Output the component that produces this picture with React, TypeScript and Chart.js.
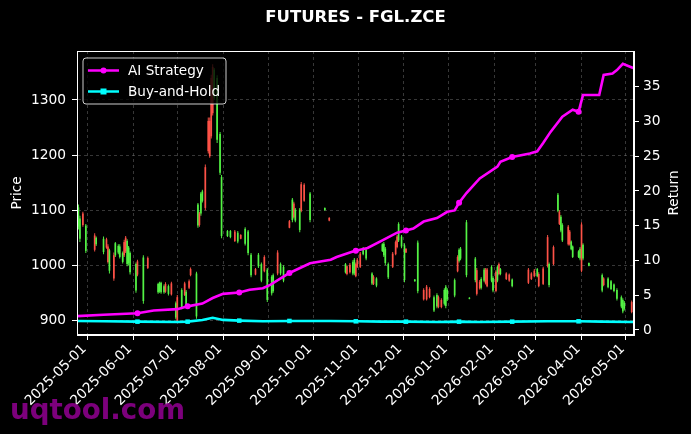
import React, { useEffect, useRef } from 'react';
import { Chart, registerables } from 'chart.js';

Chart.register(...registerables);

// ---------------- data ----------------
const candleDates = [
  '2025-04-25','2025-04-26','2025-04-28','2025-04-30',
  '2025-05-06','2025-05-07','2025-05-12','2025-05-14','2025-05-15','2025-05-16','2025-05-19','2025-05-20','2025-05-22','2025-05-23','2025-05-25','2025-05-26','2025-05-27','2025-05-28','2025-05-29','2025-05-30',
  '2025-06-03','2025-06-04','2025-06-08','2025-06-11','2025-06-18','2025-06-19','2025-06-20','2025-06-22','2025-06-23','2025-06-25','2025-06-27','2025-06-30',
  '2025-07-01','2025-07-04','2025-07-06','2025-07-07','2025-07-09','2025-07-10','2025-07-14','2025-07-15','2025-07-16','2025-07-17','2025-07-18','2025-07-20','2025-07-22','2025-07-23','2025-07-24','2025-07-25','2025-07-26','2025-07-28','2025-07-30','2025-07-31',
  '2025-08-04','2025-08-06','2025-08-09','2025-08-11','2025-08-13','2025-08-16','2025-08-18','2025-08-20','2025-08-23','2025-08-25','2025-08-27','2025-08-29','2025-08-31',
  '2025-09-03','2025-09-04','2025-09-07','2025-09-09','2025-09-11','2025-09-15','2025-09-17','2025-09-18','2025-09-19','2025-09-22','2025-09-23','2025-09-25','2025-09-29',
  '2025-10-09','2025-10-12','2025-10-23','2025-10-24','2025-10-26','2025-10-28','2025-10-29','2025-10-30','2025-10-31',
  '2025-11-02','2025-11-04','2025-11-06','2025-11-10','2025-11-11','2025-11-13','2025-11-17','2025-11-18','2025-11-19','2025-11-21','2025-11-24','2025-11-26','2025-11-27','2025-11-28','2025-11-30',
  '2025-12-02','2025-12-03','2025-12-09','2025-12-11','2025-12-15','2025-12-17','2025-12-19','2025-12-22','2025-12-24','2025-12-25','2025-12-27','2025-12-29','2025-12-30','2025-12-31',
  '2026-01-05','2026-01-07','2026-01-08','2026-01-09','2026-01-13','2026-01-15','2026-01-19','2026-01-20','2026-01-22','2026-01-23','2026-01-25','2026-01-26','2026-01-27','2026-01-30','2026-01-31',
  '2026-02-02','2026-02-03','2026-02-04','2026-02-05','2026-02-09','2026-02-11','2026-02-13','2026-02-24','2026-02-26','2026-02-28',
  '2026-03-02','2026-03-03','2026-03-06','2026-03-09','2026-03-10','2026-03-13','2026-03-16','2026-03-17','2026-03-18','2026-03-19','2026-03-23','2026-03-24','2026-03-25','2026-03-26','2026-03-30','2026-03-31',
  '2026-04-01','2026-04-02','2026-04-06','2026-04-15','2026-04-16','2026-04-19','2026-04-21','2026-04-23','2026-04-25','2026-04-28','2026-04-29','2026-04-30',
  '2026-05-05',
];

const opens = [
  1105,1085,1073,1072,
  1028,1050,1048,1032,1006,1027,976,1040,1035,1034,1022,1018,1025,1044,1032,1022,
  1002,983,1014,995,966,967,968,962,952,962,947,931,
  899,955,946,952,959,982,985,1110,1073,1130,1134,1104,1207,1198,1234,1276,1355,1340,1238,1160,
  1062,1062,1044,1059,1048,1066,1061,1019,983,1019,1002,989,992,
  979,982,985,1002,997,1068,1119,1087,1101,1101,1099,1117,1130,
  1104,1081,1002,984,987,1006,1010,980,997,
  997,1031,1028,985,966,976,1038,1039,1030,1002,997,1020,1033,1075,1052,
  1036,1023,974,1041,938,938,942,942,946,924,924,955,961,955,
  973,989,1028,1030,1078,941,1012,948,958,975,992,967,962,997,977,
  953,997,984,993,975,972,974,968,975,980,
  993,962,966,999,1002,1002,1128,1075,1088,1073,1038,1038,1043,1034,1025,1030,
  990,1037,1004,982,964,976,971,965,955,942,937,932,
  915,
];

const highs = [
  1110,1090,1097,1075,
  1058,1052,1052,1050,1038,1030,1023,1042,1038,1038,1025,1046,1053,1047,1035,1025,
  1005,1010,1018,1016,968,970,970,965,969,965,970,934,
  946,958,970,955,974,996,988,1113,1097,1133,1137,1183,1268,1268,1346,1365,1358,1345,1242,1164,
  1064,1064,1064,1062,1056,1069,1064,1022,995,1022,1005,1018,995,
  982,985,1027,1005,1000,1082,1122,1115,1104,1104,1151,1149,1133,
  1105,1087,1004,1000,1004,1009,1013,1005,1013,
  1024,1033,1031,987,982,978,1040,1042,1033,1005,1024,1045,1055,1078,1055,
  1040,1031,975,1045,958,964,960,945,949,945,940,958,964,958,
  976,1018,1031,1033,1082,942,1015,995,973,978,995,995,995,1000,980,
  991,1000,1005,995,987,985,976,995,987,993,
  995,987,997,1055,1005,1036,1131,1100,1091,1076,1073,1064,1045,1036,1027,1033,
  1078,1040,1005,985,978,978,973,967,958,945,940,935,
  936,
];

const lows = [
  1065,1042,1070,1022,
  1025,1035,1020,1030,1003,985,972,1015,1020,1012,1003,1015,1022,998,1000,983,
  950,980,930,993,948,950,948,948,950,945,945,902,
  896,920,944,925,957,980,903,1068,1070,1090,1114,1100,1203,1195,1230,1272,1300,1222,1164,1049,
  1051,1049,1042,1040,1047,1036,1018,978,982,995,969,987,933,
  945,950,982,982,969,1067,1078,1085,1078,1060,1096,1115,1078,
  1099,1080,985,982,985,982,982,978,995,
  995,1018,1009,964,964,960,1024,1015,1000,975,995,1018,1031,1042,1031,
  969,1022,970,949,936,936,940,915,922,922,922,927,922,935,
  942,987,1005,1009,978,938,969,945,956,956,969,965,960,969,951,
  951,969,982,982,973,970,960,966,973,978,
  978,960,964,996,960,1000,1096,1073,1060,1042,1036,1036,1027,1013,1013,1009,
  987,1009,998,951,962,958,955,951,936,922,913,918,
  913,
];

const closes = [
  1070,1048,1094,1026,
  1054,1038,1024,1047,1034,990,1018,1018,1023,1015,1006,1042,1050,1002,1004,987,
  954,1007,935,1013,951,953,951,951,966,948,967,905,
  942,924,967,928,971,993,907,1072,1094,1094,1117,1178,1262,1262,1340,1360,1304,1228,1168,1053,
  1053,1051,1061,1043,1055,1039,1022,982,993,998,972,1015,937,
  949,953,1023,985,972,1080,1082,1112,1081,1064,1147,1146,1082,
  1100,1086,987,998,1001,985,985,1002,1010,
  1021,1020,1012,967,979,963,1026,1018,1004,978,1021,1042,1052,1045,1034,
  973,1030,971,953,955,961,957,918,925,942,937,930,926,938,
  945,1015,1008,1012,982,939,973,991,970,959,972,992,992,972,954,
  988,972,1002,984,985,983,962,992,985,990,
  980,984,994,1051,964,1033,1099,1097,1063,1045,1070,1061,1029,1015,1015,1012,
  1074,1012,999,954,976,960,957,953,939,925,916,921,
  933,
];

const aiDates = [
  '2025-04-24','2025-05-12','2025-06-04','2025-06-15','2025-07-01','2025-07-08','2025-07-18','2025-07-25',
  '2025-08-01','2025-08-12','2025-08-19','2025-08-28','2025-09-02','2025-09-15','2025-09-29','2025-10-13',
  '2025-10-17','2025-10-28','2025-10-30','2025-11-07','2025-11-17','2025-11-27','2025-12-03','2025-12-08',
  '2025-12-15','2025-12-24','2025-12-31','2026-01-05','2026-01-08','2026-01-13','2026-01-22','2026-02-03',
  '2026-02-05','2026-02-13','2026-02-25','2026-03-02','2026-03-06','2026-03-11','2026-03-19','2026-03-26',
  '2026-03-30','2026-04-02','2026-04-13','2026-04-16','2026-04-22','2026-04-25','2026-04-29','2026-05-06',
];
const aiValues = [
  2.0,2.2,2.4,2.8,3.0,3.4,3.8,4.6,
  5.2,5.4,5.8,6.0,6.5,8.2,9.6,10.1,
  10.5,11.3,11.4,11.8,12.9,14.0,14.3,14.6,
  15.6,16.1,17.0,17.2,18.3,19.7,21.8,23.5,
  24.2,24.9,25.4,25.7,26.9,28.5,30.7,31.7,
  31.4,33.8,33.8,36.7,36.9,37.4,38.3,37.7,
];

const bhDates = [
  '2025-04-24','2025-05-12','2025-06-04','2025-07-01','2025-07-08','2025-07-18','2025-07-25','2025-08-01',
  '2025-08-12','2025-08-28','2025-09-15','2025-10-13','2025-10-30','2025-11-17','2025-12-03','2025-12-24',
  '2026-01-08','2026-01-22','2026-02-13','2026-03-09','2026-03-30','2026-04-15','2026-05-06',
];
const bhValues = [
  1.3,1.25,1.2,1.15,1.2,1.45,1.75,1.45,
  1.35,1.25,1.3,1.3,1.25,1.2,1.2,1.15,
  1.2,1.15,1.2,1.25,1.25,1.2,1.15,
];

const markerDates = [
  '2025-06-04','2025-07-08','2025-08-12','2025-09-15','2025-10-30','2025-12-03','2026-01-08','2026-02-13','2026-03-30',
];

const monthTicks = [
  '2025-05-01','2025-06-01','2025-07-01','2025-08-01','2025-09-01','2025-10-01','2025-11-01',
  '2025-12-01','2026-01-01','2026-02-01','2026-03-01','2026-04-01','2026-05-01',
];
const priceTicks = [900, 1000, 1100, 1200, 1300];
const returnTicks = [0, 5, 10, 15, 20, 25, 30, 35];

const TITLE = 'FUTURES - FGL.ZCE';
const WATERMARK = 'uqtool.com';

// ---------------- helpers ----------------
const BASE = Date.UTC(2025, 4, 1);
const toDay = (s: string) => {
  const [y, m, d] = s.split('-').map(Number);
  return (Date.UTC(y, m - 1, d) - BASE) / 86400000;
};

const UP = 'rgba(255,82,72,0.95)';
const DOWN = 'rgba(84,245,70,0.95)';
const candleColors = opens.map((o, i) => (closes[i] >= o ? UP : DOWN));

const FONT = '"DejaVu Sans", sans-serif';
const TICK_SIZE = 13.8;

const decorPlugin = {
  id: 'decor',
  beforeDraw(chart: any) {
    const { ctx, width, height } = chart;
    ctx.save();
    ctx.fillStyle = '#000';
    ctx.fillRect(0, 0, width, height);
    ctx.restore();
  },
  afterDraw(chart: any) {
    const { ctx, chartArea: a } = chart;
    ctx.save();
    // frame (all four spines)
    ctx.strokeStyle = '#ffffff';
    ctx.lineWidth = 1;
    ctx.strokeRect(Math.round(a.left) + 0.5, Math.round(a.top) + 0.5, Math.round(a.right - a.left) - 1, Math.round(a.bottom - a.top) - 1);

    // axis titles
    ctx.fillStyle = '#ffffff';
    ctx.font = `13.6px ${FONT}`;
    ctx.textAlign = 'center';
    ctx.textBaseline = 'middle';
    const cy = (a.top + a.bottom) / 2;
    ctx.save();
    ctx.translate(17, cy);
    ctx.rotate(-Math.PI / 2);
    ctx.fillText('Price', 0, 0);
    ctx.restore();
    ctx.save();
    ctx.translate(a.right + 40, cy);
    ctx.rotate(-Math.PI / 2);
    ctx.fillText('Return', 0, 0);
    ctx.restore();

    // legend
    const lx = a.left + 6, ly = a.top + 7, lw = 143, lh = 46;
    ctx.beginPath();
    const r = 3;
    ctx.moveTo(lx + r, ly);
    ctx.lineTo(lx + lw - r, ly);
    ctx.quadraticCurveTo(lx + lw, ly, lx + lw, ly + r);
    ctx.lineTo(lx + lw, ly + lh - r);
    ctx.quadraticCurveTo(lx + lw, ly + lh, lx + lw - r, ly + lh);
    ctx.lineTo(lx + r, ly + lh);
    ctx.quadraticCurveTo(lx, ly + lh, lx, ly + lh - r);
    ctx.lineTo(lx, ly + r);
    ctx.quadraticCurveTo(lx, ly, lx + r, ly);
    ctx.closePath();
    ctx.fillStyle = 'rgba(0,0,0,0.8)';
    ctx.fill();
    ctx.strokeStyle = 'rgba(255,255,255,0.8)';
    ctx.lineWidth = 1;
    ctx.stroke();

    const entries = chart.data.datasets.filter((d: any) => d.type === 'line');
    entries.forEach((ds: any, i: number) => {
      const y = ly + 12.5 + i * 21;
      ctx.strokeStyle = ds.borderColor;
      ctx.lineWidth = 2.5;
      ctx.beginPath();
      ctx.moveTo(lx + 5, y);
      ctx.lineTo(lx + 36, y);
      ctx.stroke();
      ctx.fillStyle = ds.borderColor;
      if (ds.pointStyle === 'rect') {
        ctx.fillRect(lx + 20.5 - 3, y - 3, 6, 6);
      } else {
        ctx.beginPath();
        ctx.arc(lx + 20.5, y, 3, 0, Math.PI * 2);
        ctx.fill();
      }
      ctx.fillStyle = '#ffffff';
      ctx.font = `13.6px ${FONT}`;
      ctx.textAlign = 'left';
      ctx.textBaseline = 'middle';
      ctx.fillText(ds.label, lx + 45, y + 0.5);
    });

    // watermark
    ctx.font = `bold 27.7px ${FONT}`;
    ctx.fillStyle = 'rgba(135,0,135,0.92)';
    ctx.textAlign = 'left';
    ctx.textBaseline = 'alphabetic';
    ctx.fillText(WATERMARK, 10, 419);
    ctx.restore();
  },
};

const gridCommon = {
  color: 'rgba(128,128,128,0.55)',
  lineWidth: 0.8,
  tickColor: '#ffffff',
  tickLength: 5,
  tickWidth: 1,
  tickBorderDash: [],
  offset: false,
};

export default function App() {
  const ref = useRef<HTMLCanvasElement>(null);

  useEffect(() => {
    document.body.style.margin = '0';
    document.body.style.background = '#000';
    Chart.defaults.font.family = FONT;
    Chart.defaults.color = '#ffffff';

    const markerSet = new Set(markerDates);

    const chart = new Chart(ref.current as HTMLCanvasElement, {
      type: 'bar',
      data: {
        datasets: [
          {
            type: 'line',
            label: 'AI Strategy',
            data: aiDates.map((d, i) => ({ x: toDay(d), y: aiValues[i] })),
            yAxisID: 'y1',
            borderColor: '#ff00ff',
            backgroundColor: '#ff00ff',
            borderWidth: 2.6,
            pointStyle: 'circle',
            pointRadius: aiDates.map((d) => (markerSet.has(d) ? 3 : 0)),
            pointBorderWidth: 0,
            tension: 0,
            order: 0,
          } as any,
          {
            type: 'line',
            label: 'Buy-and-Hold',
            data: bhDates.map((d, i) => ({ x: toDay(d), y: bhValues[i] })),
            yAxisID: 'y1',
            borderColor: '#00ffff',
            backgroundColor: '#00ffff',
            borderWidth: 2.6,
            pointStyle: 'rect',
            pointRadius: bhDates.map((d) => (markerSet.has(d) ? 3.2 : 0)),
            pointBorderWidth: 0,
            tension: 0,
            order: 1,
          } as any,
          {
            type: 'bar',
            label: 'wick',
            data: candleDates.map((d, i) => ({ x: toDay(d), y: [lows[i], highs[i]] })),
            yAxisID: 'y',
            backgroundColor: candleColors,
            borderWidth: 0,
            inflateAmount: 0,
            barThickness: 1,
            grouped: false,
            order: 3,
          } as any,
          {
            type: 'bar',
            label: 'body',
            data: candleDates.map((d, i) => ({ x: toDay(d), y: [opens[i], closes[i]] })),
            yAxisID: 'y',
            backgroundColor: candleColors,
            borderWidth: 0,
            inflateAmount: 0,
            barThickness: 1.7,
            grouped: false,
            order: 2,
          } as any,
        ],
      },
      options: {
        responsive: false,
        maintainAspectRatio: false,
        animation: false,
        layout: { padding: 0 },
        plugins: {
          legend: { display: false },
          tooltip: { enabled: false },
          title: {
            display: true,
            text: TITLE,
            color: '#ffffff',
            fullSize: false,
            font: { family: FONT, size: 16.5, weight: 'bold' },
            padding: { top: 8, bottom: 23.2 },
          },
        },
        scales: {
          x: {
            type: 'linear',
            min: -6.98,
            max: 370.57,
            offset: false,
            grid: { ...gridCommon },
            border: { color: '#ffffff', width: 1, dash: [3, 3] },
            ticks: {
              color: '#ffffff',
              font: { size: TICK_SIZE, family: FONT },
              autoSkip: false,
              maxRotation: 45,
              minRotation: 45,
              padding: 1,
              labelOffset: -3,
              callback: (v: any) => {
                const t = monthTicks.find((s) => toDay(s) === v);
                return t ?? '';
              },
            },
            afterBuildTicks: (s: any) => {
              s.ticks = monthTicks.map((t) => ({ value: toDay(t) }));
            },
            afterFit: (s: any) => {
              s.height = 99;
            },
          },
          y: {
            type: 'linear',
            position: 'left',
            min: 873.3,
            max: 1388.9,
            grid: { ...gridCommon },
            border: { color: '#ffffff', width: 1, dash: [3, 3] },
            ticks: {
              color: '#ffffff',
              font: { size: TICK_SIZE, family: FONT },
              padding: 6,
              callback: (v: any) => String(v),
            },
            afterBuildTicks: (s: any) => {
              s.ticks = priceTicks.map((v) => ({ value: v }));
            },
            afterFit: (s: any) => {
              s.width = 77;
            },
          },
          y1: {
            type: 'linear',
            position: 'right',
            min: -0.72,
            max: 40.14,
            grid: { ...gridCommon, drawOnChartArea: false },
            border: { color: '#ffffff', width: 1 },
            ticks: {
              color: '#ffffff',
              font: { size: TICK_SIZE, family: FONT },
              padding: 4,
              callback: (v: any) => String(v),
            },
            afterBuildTicks: (s: any) => {
              s.ticks = returnTicks.map((v) => ({ value: v }));
            },
            afterFit: (s: any) => {
              s.width = 57;
            },
          },
        },
      } as any,
      plugins: [decorPlugin],
    });

    return () => chart.destroy();
  }, []);

  return (
    <div style={{ width: 691, height: 434, background: '#000' }}>
      <canvas ref={ref} width={691} height={434} style={{ display: 'block', width: 691, height: 434 }} />
    </div>
  );
}
